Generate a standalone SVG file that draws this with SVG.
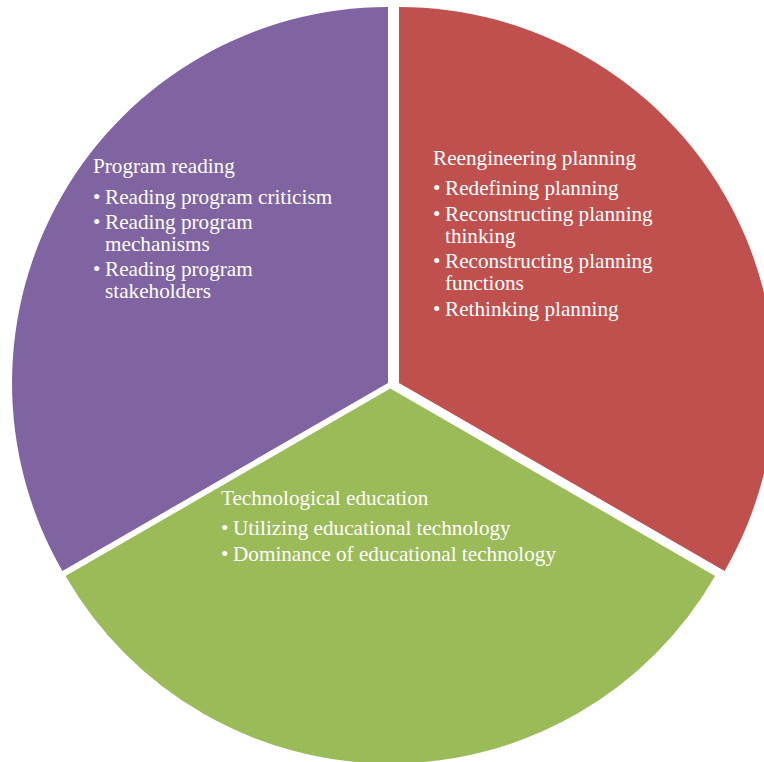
<svg xmlns="http://www.w3.org/2000/svg" width="764" height="762" viewBox="0 0 764 762">
<style>
.t{font-family:"Liberation Serif","Times New Roman",serif;font-size:21.2px;fill:#FFFFFF}
</style>
<rect width="764" height="762" fill="#FFFFFF"/>
<g id="connectors"></g>
<g id="node-program-reading">
<path d="M 388 383 L 388 7 A 376 376 0 0 0 62.4 571 Z" fill="#8064A2"/>
<text class="t" x="93" y="173">Program reading</text>
<text class="t" x="93" y="204">•</text><text class="t" x="105" y="204">Reading program criticism</text>
<text class="t" x="93" y="229">•</text><text class="t" x="105" y="229">Reading program</text>
<text class="t" x="105" y="251">mechanisms</text>
<text class="t" x="93" y="276">•</text><text class="t" x="105" y="276">Reading program</text>
<text class="t" x="105" y="298">stakeholders</text>
</g>
<g id="node-reengineering-planning">
<path d="M 399 383 L 399 7 A 376 376 0 0 1 724.6 571 Z" fill="#C0504D"/>
<text class="t" x="433" y="165">Reengineering planning</text>
<text class="t" x="433" y="195">•</text><text class="t" x="445" y="195">Redefining planning</text>
<text class="t" x="433" y="221">•</text><text class="t" x="445" y="221">Reconstructing planning</text>
<text class="t" x="445" y="243">thinking</text>
<text class="t" x="433" y="268">•</text><text class="t" x="445" y="268">Reconstructing planning</text>
<text class="t" x="445" y="290">functions</text>
<text class="t" x="433" y="316">•</text><text class="t" x="445" y="316">Rethinking planning</text>
</g>
<g id="node-technological-education">
<path d="M 390.3 388.5 L 715.1 576 A 375 375 0 0 1 65.5 576 Z" fill="#9BBB59"/>
<text class="t" x="221" y="505">Technological education</text>
<text class="t" x="221" y="535">•</text><text class="t" x="233" y="535">Utilizing educational technology</text>
<text class="t" x="221" y="561">•</text><text class="t" x="233" y="561">Dominance of educational technology</text>
</g>
</svg>
